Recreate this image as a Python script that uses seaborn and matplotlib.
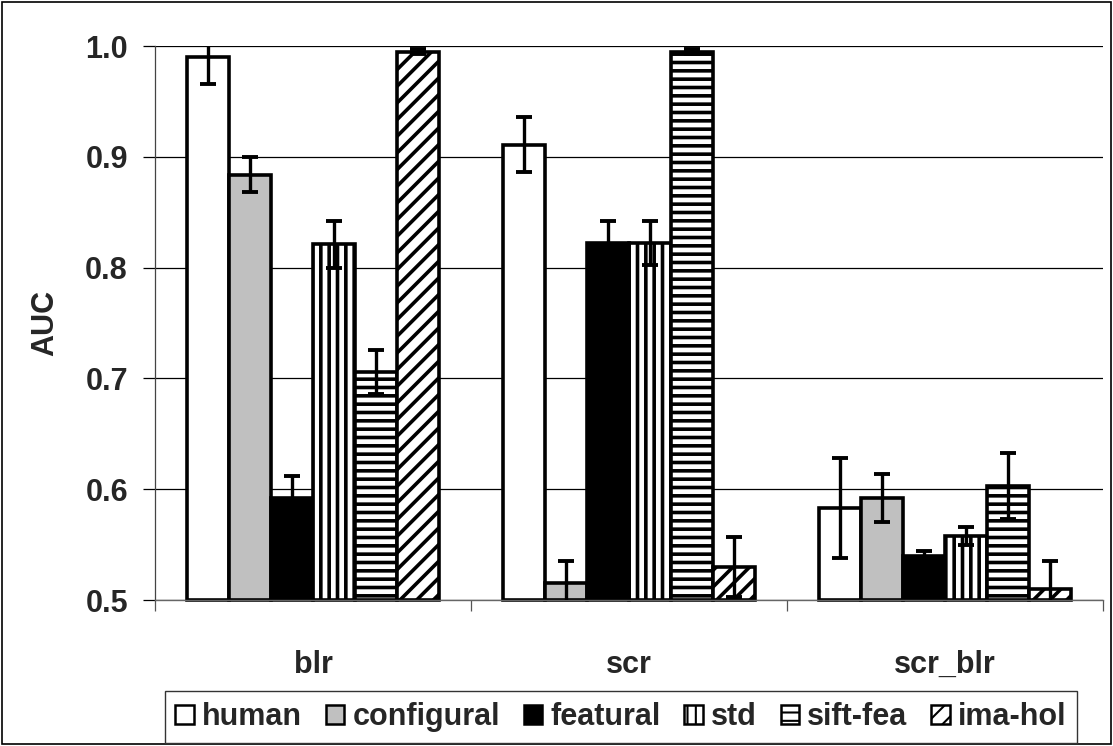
import numpy as np
import pandas as pd
import matplotlib
matplotlib.use("Agg")
import matplotlib.pyplot as plt
import seaborn as sns
from matplotlib.patches import Rectangle

conditions = ["blr", "scr", "scr_blr"]
methods = ["human", "configural", "featural", "std", "sift-fea", "ima-hol"]

human = [0.990, 0.911, 0.583]
configural = [0.884, 0.515, 0.592]
featural = [0.592, 0.822, 0.540]
std = [0.821, 0.822, 0.558]
sift_fea = [0.706, 0.995, 0.603]
ima_hol = [0.995, 0.530, 0.510]

human_err = [0.024, 0.025, 0.045]
configural_err = [0.016, 0.020, 0.022]
featural_err = [0.020, 0.020, 0.004]
std_err = [0.021, 0.020, 0.008]
sift_fea_err = [0.020, 0.002, 0.030]
ima_hol_err = [0.002, 0.027, 0.025]

values = [human, configural, featural, std, sift_fea, ima_hol]
errors = [human_err, configural_err, featural_err, std_err, sift_fea_err, ima_hol_err]

rows = []
for m, vals, errs in zip(methods, values, errors):
    for c, v, e in zip(conditions, vals, errs):
        rows.append({"cond": c, "method": m, "auc": v, "err": e})
df = pd.DataFrame(rows)

sns.set_theme(style="white")
plt.rcParams["font.family"] = ["Liberation Sans", "DejaVu Sans"]
plt.rcParams["font.weight"] = "bold"
plt.rcParams["hatch.linewidth"] = 2.6
plt.rcParams["hatch.color"] = "black"

FS = 22
fills = ["white", "#c0c0c0", "black", "white", "white", "white"]
hatches = [None, None, None, "||", "--", "//"]

fig = plt.figure(figsize=(11.13, 7.46), dpi=100)
ax = fig.add_axes([155 / 1113, 1 - 600 / 746, (1103 - 155) / 1113, (600 - 46) / 746])

sns.barplot(data=df, x="cond", y="auc", hue="method", order=conditions, hue_order=methods,
            palette=fills, errorbar=None, edgecolor="black", linewidth=2.6,
            width=0.8, gap=0, ax=ax, legend=True, saturation=1)

ymin = 0.5
for container, hatch, m in zip(ax.containers, hatches, methods):
    sub = df[df["method"] == m].set_index("cond").loc[conditions]
    xs = []
    for patch in container:
        h = patch.get_height()
        patch.set_y(ymin)
        patch.set_height(h - ymin)
        patch.set_clip_on(False)
        patch.set_zorder(2)
        if hatch:
            patch.set_hatch(hatch)
            patch.set_hatch_linewidth(2.6)
        xs.append(patch.get_x() + patch.get_width() / 2)
    ax.errorbar(xs, sub["auc"].values, yerr=sub["err"].values, fmt="none", ecolor="black",
                elinewidth=2.4, capsize=5.5, capthick=2.8, zorder=3)

ax.set_ylim(0.5, 1.0)
ax.set_xlim(-0.5, 2.5)
ax.set_yticks([0.5, 0.6, 0.7, 0.8, 0.9, 1.0])
ax.set_yticklabels(["0.5", "0.6", "0.7", "0.8", "0.9", "1.0"])
ax.yaxis.grid(True, color="black", linewidth=0.9)
ax.set_axisbelow(True)
ax.tick_params(axis="y", which="major", left=True, length=8.5, width=0.9, color="black",
               pad=11, labelsize=FS)
ax.set_xticks([0, 1, 2])
ax.set_xticklabels(conditions)
ax.set_xticks([-0.5, 0.5, 1.5, 2.5], minor=True)
ax.tick_params(axis="x", which="major", bottom=False, length=0, pad=36, labelsize=FS)
ax.tick_params(axis="x", which="minor", bottom=True, length=8, width=0.9, color="#555555")
for lbl in ax.get_xticklabels() + ax.get_yticklabels():
    lbl.set_fontweight("bold")
    lbl.set_fontsize(FS)
ax.set_xlabel("")
ax.set_ylabel("AUC", fontsize=FS, fontweight="bold", labelpad=18)

for s in ["top", "right"]:
    ax.spines[s].set_visible(False)
ax.spines["left"].set_color("#444444")
ax.spines["left"].set_linewidth(0.9)
ax.spines["bottom"].set_color("#666666")
ax.spines["bottom"].set_linewidth(1.0)

handles, labels = ax.get_legend_handles_labels()
ax.get_legend().remove()
leg = fig.legend(handles, labels, loc="center", bbox_to_anchor=(621 / 1113, 1 - 717 / 746), ncol=6,
                 frameon=True, fancybox=False, framealpha=1, edgecolor="#333333",
                 handlelength=0.6, handleheight=0.6, handletextpad=0.27, columnspacing=0.78,
                 borderpad=0.35, borderaxespad=0, prop={"weight": "bold", "size": FS})
leg.get_frame().set_linewidth(1.0)
for h, hatch in zip(leg.legend_handles, hatches):
    h.set_linewidth(1.8)
    if hatch:
        h.set_hatch(hatch)
        h.set_hatch_linewidth(1.5)

fig.patches.append(Rectangle((0.002, 0.003), 0.996, 0.994, transform=fig.transFigure,
                             fill=False, edgecolor="black", linewidth=1.2))

fig.savefig("out.png", dpi=100)
